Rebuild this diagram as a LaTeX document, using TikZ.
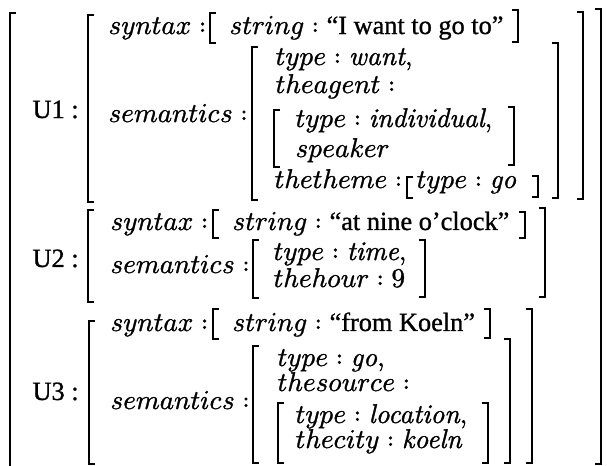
\documentclass[tikz,border=0pt]{standalone}
\usepackage{fontspec}
\usepackage{unicode-math}
\setmainfont{Latin Modern Roman}[FakeBold=1.2]
\setmathfont{Latin Modern Math}[FakeBold=1.2]
\newfontfamily\tms{Liberation Serif}[Scale=0.97, FakeBold=1.0]
\newcommand{\avmL}[3]{\draw[brk] (#1+6,#2) -- (#1,#2) -- (#1,#3) -- (#1+6,#3);}
\newcommand{\avmR}[3]{\draw[brk] (#1-6,#2) -- (#1,#2) -- (#1,#3) -- (#1-6,#3);}
\tikzset{
  lbl/.style={anchor=base west, inner sep=0pt, font=\fontsize{9.7}{12}\selectfont},
  brk/.style={line width=0.8pt, line cap=butt, line join=miter}
}
\begin{document}
\begin{tikzpicture}[x=0.3574pt, y=-0.3574pt]
\useasboundingbox (0,0) rectangle (607,466);
% outer brackets
\avmL{10}{13}{470}
\avmR{601}{9}{464}
% ---------- U1 ----------
\node[lbl] (u1) at (32,118) {\tms U1 :};
\avmL{88}{15}{202}
\avmR{583}{12}{199}
\node[lbl] (u1syn) at (108,34) {$syntax:$};
\avmL{210}{13}{43}
\node[lbl] (u1str) at (229,34) {$string:{}$\tms “I want to go to”};
\avmR{518}{10}{42}
\node[lbl] (u1sem) at (108,122) {$semantics:$};
\avmL{252}{47}{200}
\avmR{558}{43}{198}
\node[lbl] (u1type) at (275,65) {$type:{}$\textit{want},};
\node[lbl] (u1agent) at (275,93) {$theagent:$};
\avmL{274}{110}{167}
\avmR{514}{107}{165}
\node[lbl] (u1ind) at (295,127) {$type:{}$\textit{individual},};
\node[lbl] (u1spk) at (295,157) {$speaker$};
\node[lbl] (u1theme) at (274,188) {$thetheme:$};
\avmL{407}{177}{198}
\node[lbl] (u1go) at (416,188) {$type:{}$\textit{go}};
\avmR{538}{176}{197}
% ---------- U2 ----------
\node[lbl] (u2) at (32,267) {\tms U2 :};
\avmL{88}{210}{302}
\avmR{545}{208}{297}
\node[lbl] (u2syn) at (110,230) {$syntax:$};
\avmL{213}{210}{238}
\node[lbl] (u2str) at (232,230) {$string:{}$\tms “at nine o’clock”};
\avmR{525}{212}{238}
\node[lbl] (u2sem) at (110,273) {$semantics:$};
\avmL{253}{240}{298}
\avmR{425}{240}{297}
\node[lbl] (u2type) at (273,260) {$type:{}$\textit{time},};
\node[lbl] (u2hour) at (273,287) {$thehour:9$};
% ---------- U3 ----------
\node[lbl] (u3) at (32,400) {\tms U3 :};
\avmL{89}{321}{464}
\avmR{532}{309}{463}
\node[lbl] (u3syn) at (110,331) {$syntax:$};
\avmL{213}{309}{339}
\node[lbl] (u3str) at (232,331) {$string:{}$\tms “from Koeln”};
\avmR{490}{309}{338}
\node[lbl] (u3sem) at (110,409) {$semantics:$};
\avmL{253}{346}{463}
\avmR{510}{339}{463}
\node[lbl] (u3type) at (277,366) {$type:{}$\textit{go},};
\node[lbl] (u3src) at (277,391) {$thesource:$};
\avmL{278}{403}{463}
\avmR{488}{403}{463}
\node[lbl] (u3loc) at (295,423) {$type:{}$\textit{location},};
\node[lbl] (u3city) at (295,448) {$thecity:{}$\textit{koeln}};
\end{tikzpicture}
\end{document}
